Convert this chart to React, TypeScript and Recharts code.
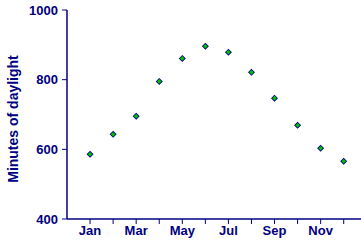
import React from "react";
import { ScatterChart, Scatter, XAxis, YAxis } from "recharts";

const months = ["Jan", "Feb", "Mar", "Apr", "May", "Jun", "Jul", "Aug", "Sep", "Oct", "Nov", "Dec"];
const minutes = [586, 643, 695, 795, 861, 896, 879, 821, 747, 669, 603, 566];
const yTicks = [400, 600, 800, 1000];

const data = months.map((m, i) => ({ idx: i + 1, month: m, minutes: minutes[i] }));

const NAVY = "#000080";
const GREEN = "#00c000";
const FONT = "Arial, 'Liberation Sans', sans-serif";

const Diamond = (props: any) => {
  const { cx, cy } = props;
  if (cx == null || cy == null) return null;
  const r = 3.5;
  const r2 = 2.3;
  return (
    <g>
      <polygon points={`${cx},${cy - r} ${cx + r},${cy} ${cx},${cy + r} ${cx - r},${cy}`} fill={NAVY} />
      <polygon points={`${cx},${cy - r2} ${cx + r2},${cy} ${cx},${cy + r2} ${cx - r2},${cy}`} fill={GREEN} />
    </g>
  );
};

const YLabel = () => (
  <text
    x={13}
    y={119}
    transform="rotate(-90 13 119)"
    textAnchor="middle"
    dominantBaseline="central"
    fill={NAVY}
    fontFamily={FONT}
    fontWeight="bold"
    fontSize={14}
  >
    Minutes of daylight
  </text>
);

export default function App() {
  return (
    <div style={{ position: "absolute", left: 0, top: 0, width: 361, height: 241, background: "#fff" }}>
      <ScatterChart width={361} height={241} margin={{ top: 10, right: 0, bottom: 0, left: 0 }}>
        <XAxis
          dataKey="idx"
          type="number"
          domain={[0, 12.75]}
          ticks={[1, 2, 3, 4, 5, 6, 7, 8, 9, 10, 11, 12]}
          interval={0}
          tickFormatter={(v: number) => (v % 2 === 1 ? months[v - 1] : "")}
          height={22}
          tickSize={5}
          tickMargin={2}
          axisLine={{ stroke: NAVY, strokeWidth: 1.5 }}
          tickLine={{ stroke: NAVY }}
          tick={{ fill: NAVY, fontFamily: FONT, fontWeight: "bold", fontSize: 13 }}
        />
        <YAxis
          dataKey="minutes"
          type="number"
          domain={[400, 1000]}
          ticks={yTicks}
          interval={0}
          width={67}
          tickSize={5}
          tickMargin={4}
          axisLine={{ stroke: NAVY, strokeWidth: 1.5 }}
          tickLine={{ stroke: NAVY }}
          tick={{ fill: NAVY, fontFamily: FONT, fontWeight: "bold", fontSize: 13 }}
          label={<YLabel />}
        />
        <Scatter data={data} shape={<Diamond />} isAnimationActive={false} />
      </ScatterChart>
    </div>
  );
}
